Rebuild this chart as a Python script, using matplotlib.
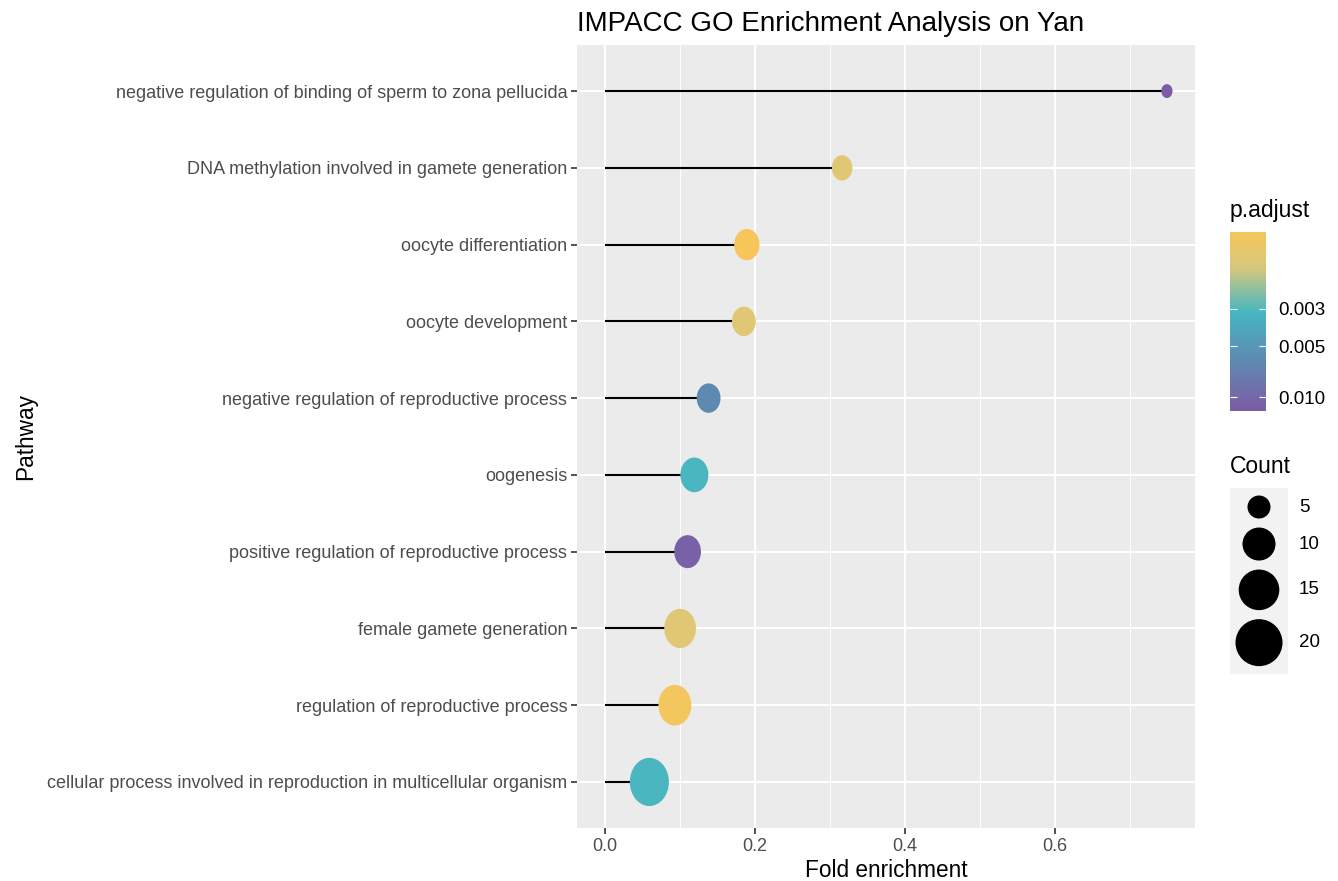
import numpy as np
import matplotlib
matplotlib.use('Agg')
import matplotlib.pyplot as plt
from matplotlib.colors import LinearSegmentedColormap, LogNorm
from matplotlib.path import Path
from matplotlib.ticker import FixedLocator, FixedFormatter, NullLocator

# data, listed top to bottom as in the chart
pathways = [
    'negative regulation of binding of sperm to zona pellucida',
    'DNA methylation involved in gamete generation',
    'oocyte differentiation',
    'oocyte development',
    'negative regulation of reproductive process',
    'oogenesis',
    'positive regulation of reproductive process',
    'female gamete generation',
    'regulation of reproductive process',
    'cellular process involved in reproduction in multicellular organism',
]
fold_enrichment = [0.749, 0.316, 0.189, 0.185, 0.138, 0.119, 0.110, 0.100, 0.093, 0.059]
counts = [2, 6, 9, 8, 8, 11, 10, 14, 15, 21]
p_adjust = [0.0121, 0.0015, 0.00105, 0.0015, 0.0060, 0.0031, 0.0110, 0.0015, 0.0011, 0.0031]

count_breaks = [5, 10, 15, 20]
p_breaks = [0.003, 0.005, 0.010]
p_break_labels = ['0.003', '0.005', '0.010']
x_breaks = [0.0, 0.2, 0.4, 0.6]

plt.rcParams['font.family'] = ['Liberation Sans', 'DejaVu Sans']

W, H = 1338, 881
fig = plt.figure(figsize=(W / 100, H / 100), dpi=100)


def px_axes(l, t, r, b):
    return fig.add_axes([l / W, 1 - b / H, (r - l) / W, (b - t) / H])


def diam_px(c):
    # diameter in pixels for a count (area scaling)
    return np.sqrt(np.maximum(112 * np.asarray(c, dtype=float) - 30, 60))


def size_pt2(c):
    return (diam_px(c) * 72 / 100) ** 2


cmap = LinearSegmentedColormap.from_list(
    'padj', [(0.0, '#F6C65B'), (0.2, '#D6C77C'), (0.45, '#45B6C2'),
             (0.72, '#5F89B2'), (1.0, '#7B5CA5')])
norm = LogNorm(vmin=min(p_adjust), vmax=max(p_adjust))

# the dots in the panel are slightly squeezed horizontally
circ = Path.unit_circle()
ellipse = Path(circ.vertices * np.array([0.81, 1.0]), circ.codes)

ax = px_axes(577, 45, 1195, 828)
ax.set_facecolor('#EBEBEB')
n = len(pathways)
ypos = np.arange(n)[::-1]

ax.hlines(ypos, 0, fold_enrichment, color='black', lw=1.5, zorder=2)
ax.scatter(fold_enrichment, ypos, s=size_pt2(counts), c=p_adjust, cmap=cmap,
           norm=norm, marker=ellipse, edgecolors='none', zorder=3)

xmax = max(fold_enrichment)
ax.set_xlim(-0.05 * xmax, 1.05 * xmax)
ax.set_ylim(-0.6, n - 1 + 0.6)
ax.set_xticks(x_breaks)
ax.set_xticklabels(['0.0', '0.2', '0.4', '0.6'])
ax.set_xticks([0.1, 0.3, 0.5, 0.7], minor=True)
ax.set_yticks(ypos)
ax.set_yticklabels(pathways)
ax.grid(which='major', color='white', lw=1.5)
ax.grid(which='minor', color='white', lw=0.7)
ax.set_axisbelow(True)
for s in ax.spines.values():
    s.set_visible(False)
ax.tick_params(which='major', length=4, width=1.2, color='#333333',
               labelcolor='#4D4D4D', labelsize=13, pad=3)
ax.tick_params(which='minor', length=0)
ax.set_xlabel('Fold enrichment', fontsize=16.3, labelpad=3)
ax.set_ylabel('Pathway', fontsize=16.3, labelpad=7)
ax.set_title('IMPACC GO Enrichment Analysis on Yan', fontsize=20, loc='left', pad=10)

# colour legend
fig.text(1230 / W, 1 - 210 / H, 'p.adjust', fontsize=16.5, va='center', ha='left')
cax = px_axes(1230, 232, 1266, 411)
cb = fig.colorbar(plt.cm.ScalarMappable(norm=norm, cmap=cmap), cax=cax)
cb.outline.set_visible(False)
cax.invert_yaxis()
cax.yaxis.set_major_locator(FixedLocator(p_breaks))
cax.yaxis.set_major_formatter(FixedFormatter(p_break_labels))
cax.yaxis.set_minor_locator(NullLocator())
cax.tick_params(axis='y', which='major', direction='in', left=True, right=True,
                length=5, width=0.8, color='white', labelcolor='black',
                labelsize=13.5, pad=9)

# size legend
fig.text(1230 / W, 1 - 467 / H, 'Count', fontsize=16.5, va='center', ha='left')
kh = diam_px(count_breaks) + 9
top = 488
centres = top + 3 + np.cumsum(kh) - kh / 2
bottom = top + 6 + kh.sum()
lax = px_axes(1230, top, 1288, bottom)
lax.set_facecolor('#F2F2F2')
lax.set_xlim(1230, 1288)
lax.set_ylim(bottom, top)
lax.scatter(np.full(len(count_breaks), 1259.0), centres, s=size_pt2(count_breaks),
            color='black', edgecolors='none')
lax.set_xticks([])
lax.set_yticks([])
for s in lax.spines.values():
    s.set_visible(False)
for c, yc in zip(count_breaks, centres):
    fig.text(1299 / W, 1 - yc / H, str(c), fontsize=13.5, va='center', ha='left')

fig.savefig('out.png', dpi=100)
